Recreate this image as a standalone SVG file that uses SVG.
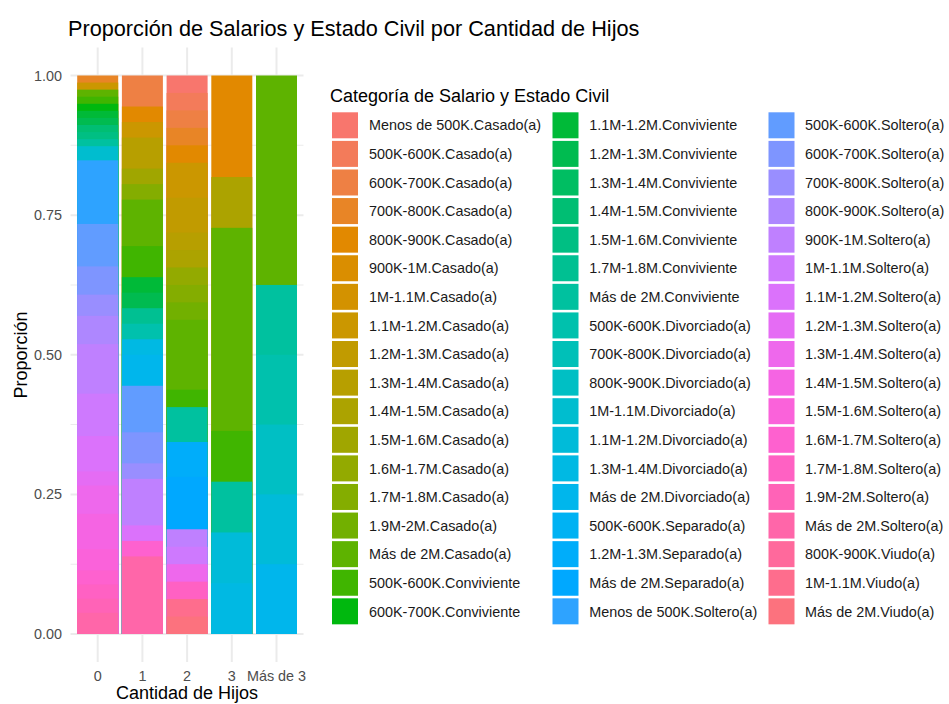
<svg xmlns="http://www.w3.org/2000/svg" width="949" height="704" viewBox="0 0 949 704">
<style>
text{font-family:"Liberation Sans",Arial,Helvetica,sans-serif}
.title{font-size:21.7px;fill:#000}
.axt{font-size:18px;fill:#000}
.tick{font-size:14.4px;fill:#4D4D4D}
.lt{font-size:18px;fill:#000}
.li{font-size:14.4px;fill:#1A1A1A}
.gmaj{stroke:#EBEBEB;stroke-width:2;fill:none}
.gmin{stroke:#EBEBEB;stroke-width:1.1;fill:none}
.c0{fill:#F8766D}.c1{fill:#F37B5A}.c2{fill:#EE8044}.c3{fill:#E88526}.c4{fill:#E28900}.c5{fill:#DA8E00}
.c6{fill:#D39200}.c7{fill:#CB9700}.c8{fill:#C19B00}.c9{fill:#B79F00}.c10{fill:#ACA300}.c11{fill:#A0A600}
.c12{fill:#93AA00}.c13{fill:#84AD00}.c14{fill:#72B000}.c15{fill:#5EB300}.c16{fill:#40B500}.c17{fill:#00B80E}
.c18{fill:#00BA38}.c19{fill:#00BB50}.c20{fill:#00BE62}.c21{fill:#00BE73}.c22{fill:#00BF83}.c23{fill:#00C092}
.c24{fill:#00C19F}.c25{fill:#00C1AD}.c26{fill:#00C0B8}.c27{fill:#00BFC4}.c28{fill:#00BDCF}.c29{fill:#00BBD9}
.c30{fill:#00B9E3}.c31{fill:#00B6EC}.c32{fill:#00B2F3}.c33{fill:#00ADFA}.c34{fill:#00A8FF}.c35{fill:#2EA3FF}
.c36{fill:#619CFF}.c37{fill:#7E95FF}.c38{fill:#998EFF}.c39{fill:#AE87FF}.c40{fill:#BF80FF}.c41{fill:#CE79FE}
.c42{fill:#DB72FB}.c43{fill:#E56CF4}.c44{fill:#EE68EC}.c45{fill:#F564E3}.c46{fill:#FA62DA}.c47{fill:#FE61CF}
.c48{fill:#FF61C3}.c49{fill:#FF63B7}.c50{fill:#FF66A9}.c51{fill:#FF699C}.c52{fill:#FE6D8D}.c53{fill:#FC727E}
</style>
<rect width="949" height="704" fill="#FFFFFF"/>
<text class="title" x="68" y="36">Proporción de Salarios y Estado Civil por Cantidad de Hijos</text>

<g id="grid">
<line class="gmin" x1="70.5" y1="564.19" x2="303.5" y2="564.19"/>
<line class="gmin" x1="70.5" y1="424.56" x2="303.5" y2="424.56"/>
<line class="gmin" x1="70.5" y1="284.94" x2="303.5" y2="284.94"/>
<line class="gmin" x1="70.5" y1="145.31" x2="303.5" y2="145.31"/>
<line class="gmaj" x1="70.5" y1="634" x2="303.5" y2="634"/>
<line class="gmaj" x1="70.5" y1="494.38" x2="303.5" y2="494.38"/>
<line class="gmaj" x1="70.5" y1="354.75" x2="303.5" y2="354.75"/>
<line class="gmaj" x1="70.5" y1="215.13" x2="303.5" y2="215.13"/>
<line class="gmaj" x1="70.5" y1="75.5" x2="303.5" y2="75.5"/>
<line class="gmaj" x1="97.7" y1="47.6" x2="97.7" y2="661.9"/>
<line class="gmaj" x1="142.4" y1="47.6" x2="142.4" y2="661.9"/>
<line class="gmaj" x1="187.1" y1="47.6" x2="187.1" y2="661.9"/>
<line class="gmaj" x1="231.8" y1="47.6" x2="231.8" y2="661.9"/>
<line class="gmaj" x1="276.5" y1="47.6" x2="276.5" y2="661.9"/>
</g>

<g id="bar-0">
<rect class="c3" x="77.2" y="75.5" width="41" height="558.5"/>
<rect class="c7" x="77.2" y="82.57" width="41" height="551.43"/>
<rect class="c15" x="77.2" y="89.64" width="41" height="544.36"/>
<rect class="c16" x="77.2" y="96.71" width="41" height="537.29"/>
<rect class="c17" x="77.2" y="103.78" width="41" height="530.22"/>
<rect class="c18" x="77.2" y="110.85" width="41" height="523.15"/>
<rect class="c19" x="77.2" y="117.92" width="41" height="516.08"/>
<rect class="c21" x="77.2" y="124.99" width="41" height="509.01"/>
<rect class="c22" x="77.2" y="132.06" width="41" height="501.94"/>
<rect class="c24" x="77.2" y="139.13" width="41" height="494.87"/>
<rect class="c28" x="77.2" y="146.2" width="41" height="487.8"/>
<rect class="c35" x="77.2" y="160.34" width="41" height="473.66"/>
<rect class="c36" x="77.2" y="223.96" width="41" height="410.04"/>
<rect class="c37" x="77.2" y="266.38" width="41" height="367.62"/>
<rect class="c38" x="77.2" y="294.66" width="41" height="339.34"/>
<rect class="c39" x="77.2" y="315.87" width="41" height="318.13"/>
<rect class="c40" x="77.2" y="344.15" width="41" height="289.85"/>
<rect class="c41" x="77.2" y="393.64" width="41" height="240.36"/>
<rect class="c42" x="77.2" y="436.05" width="41" height="197.95"/>
<rect class="c43" x="77.2" y="471.4" width="41" height="162.6"/>
<rect class="c44" x="77.2" y="485.54" width="41" height="148.46"/>
<rect class="c45" x="77.2" y="513.82" width="41" height="120.18"/>
<rect class="c46" x="77.2" y="549.17" width="41" height="84.83"/>
<rect class="c47" x="77.2" y="570.37" width="41" height="63.63"/>
<rect class="c48" x="77.2" y="584.51" width="41" height="49.49"/>
<rect class="c49" x="77.2" y="598.65" width="41" height="35.35"/>
<rect class="c50" x="77.2" y="612.79" width="41" height="21.21"/>
</g>

<g id="bar-1">
<rect class="c2" x="121.9" y="75.5" width="41" height="558.5"/>
<rect class="c4" x="121.9" y="106.53" width="41" height="527.47"/>
<rect class="c7" x="121.9" y="122.04" width="41" height="511.96"/>
<rect class="c9" x="121.9" y="137.56" width="41" height="496.44"/>
<rect class="c11" x="121.9" y="168.58" width="41" height="465.42"/>
<rect class="c13" x="121.9" y="184.1" width="41" height="449.9"/>
<rect class="c15" x="121.9" y="199.61" width="41" height="434.39"/>
<rect class="c16" x="121.9" y="246.15" width="41" height="387.85"/>
<rect class="c18" x="121.9" y="277.18" width="41" height="356.82"/>
<rect class="c19" x="121.9" y="292.69" width="41" height="341.31"/>
<rect class="c23" x="121.9" y="308.21" width="41" height="325.79"/>
<rect class="c25" x="121.9" y="323.72" width="41" height="310.28"/>
<rect class="c30" x="121.9" y="339.24" width="41" height="294.76"/>
<rect class="c31" x="121.9" y="354.75" width="41" height="279.25"/>
<rect class="c36" x="121.9" y="385.78" width="41" height="248.22"/>
<rect class="c37" x="121.9" y="432.32" width="41" height="201.68"/>
<rect class="c38" x="121.9" y="463.35" width="41" height="170.65"/>
<rect class="c40" x="121.9" y="478.86" width="41" height="155.14"/>
<rect class="c42" x="121.9" y="525.4" width="41" height="108.6"/>
<rect class="c47" x="121.9" y="540.92" width="41" height="93.08"/>
<rect class="c50" x="121.9" y="556.43" width="41" height="77.57"/>
</g>

<g id="bar-2">
<rect class="c0" x="166.6" y="75.5" width="41" height="558.5"/>
<rect class="c1" x="166.6" y="92.95" width="41" height="541.05"/>
<rect class="c2" x="166.6" y="110.41" width="41" height="523.59"/>
<rect class="c3" x="166.6" y="127.86" width="41" height="506.14"/>
<rect class="c4" x="166.6" y="145.31" width="41" height="488.69"/>
<rect class="c7" x="166.6" y="162.77" width="41" height="471.23"/>
<rect class="c8" x="166.6" y="197.67" width="41" height="436.33"/>
<rect class="c9" x="166.6" y="232.58" width="41" height="401.42"/>
<rect class="c10" x="166.6" y="250.03" width="41" height="383.97"/>
<rect class="c12" x="166.6" y="267.48" width="41" height="366.52"/>
<rect class="c13" x="166.6" y="284.94" width="41" height="349.06"/>
<rect class="c14" x="166.6" y="302.39" width="41" height="331.61"/>
<rect class="c15" x="166.6" y="319.84" width="41" height="314.16"/>
<rect class="c16" x="166.6" y="389.66" width="41" height="244.34"/>
<rect class="c24" x="166.6" y="407.11" width="41" height="226.89"/>
<rect class="c33" x="166.6" y="442.02" width="41" height="191.98"/>
<rect class="c34" x="166.6" y="476.92" width="41" height="157.08"/>
<rect class="c40" x="166.6" y="529.28" width="41" height="104.72"/>
<rect class="c41" x="166.6" y="546.73" width="41" height="87.27"/>
<rect class="c44" x="166.6" y="564.19" width="41" height="69.81"/>
<rect class="c48" x="166.6" y="581.64" width="41" height="52.36"/>
<rect class="c52" x="166.6" y="599.09" width="41" height="34.91"/>
<rect class="c53" x="166.6" y="616.55" width="41" height="17.45"/>
</g>

<g id="bar-3">
<rect class="c4" x="211.3" y="75.5" width="41" height="558.5"/>
<rect class="c10" x="211.3" y="177.05" width="41" height="456.95"/>
<rect class="c15" x="211.3" y="227.82" width="41" height="406.18"/>
<rect class="c16" x="211.3" y="430.91" width="41" height="203.09"/>
<rect class="c24" x="211.3" y="481.68" width="41" height="152.32"/>
<rect class="c29" x="211.3" y="532.45" width="41" height="101.55"/>
<rect class="c30" x="211.3" y="583.23" width="41" height="50.77"/>
</g>

<g id="bar-4">
<rect class="c15" x="256" y="75.5" width="41" height="558.5"/>
<rect class="c24" x="256" y="284.94" width="41" height="349.06"/>
<rect class="c25" x="256" y="354.75" width="41" height="279.25"/>
<rect class="c27" x="256" y="424.56" width="41" height="209.44"/>
<rect class="c29" x="256" y="494.38" width="41" height="139.62"/>
<rect class="c31" x="256" y="564.19" width="41" height="69.81"/>
</g>

<g id="y-axis">
<text class="tick" x="62" y="80.5" text-anchor="end">1.00</text>
<text class="tick" x="62" y="220.1" text-anchor="end">0.75</text>
<text class="tick" x="62" y="359.8" text-anchor="end">0.50</text>
<text class="tick" x="62" y="499.4" text-anchor="end">0.25</text>
<text class="tick" x="62" y="639" text-anchor="end">0.00</text>
<text class="axt" transform="translate(27,355) rotate(-90)" text-anchor="middle">Proporción</text>
</g>

<g id="x-axis">
<text class="tick" x="97.7" y="681" text-anchor="middle">0</text>
<text class="tick" x="142.4" y="681" text-anchor="middle">1</text>
<text class="tick" x="187.1" y="681" text-anchor="middle">2</text>
<text class="tick" x="231.8" y="681" text-anchor="middle">3</text>
<text class="tick" x="276.5" y="681" text-anchor="middle">Más de 3</text>
<text class="axt" x="187" y="699" text-anchor="middle">Cantidad de Hijos</text>
</g>

<g id="connectors"></g>

<g id="legend">
<text class="lt" x="330" y="102">Categoría de Salario y Estado Civil</text>
<g id="leg-0" transform="translate(332,112.3)"><rect class="c0" width="26" height="26"/><text class="li" x="37" y="18.2">Menos de 500K.Casado(a)</text></g>
<g id="leg-1" transform="translate(332,140.89)"><rect class="c1" width="26" height="26"/><text class="li" x="37" y="18.2">500K-600K.Casado(a)</text></g>
<g id="leg-2" transform="translate(332,169.48)"><rect class="c2" width="26" height="26"/><text class="li" x="37" y="18.2">600K-700K.Casado(a)</text></g>
<g id="leg-3" transform="translate(332,198.07)"><rect class="c3" width="26" height="26"/><text class="li" x="37" y="18.2">700K-800K.Casado(a)</text></g>
<g id="leg-4" transform="translate(332,226.66)"><rect class="c4" width="26" height="26"/><text class="li" x="37" y="18.2">800K-900K.Casado(a)</text></g>
<g id="leg-5" transform="translate(332,255.25)"><rect class="c5" width="26" height="26"/><text class="li" x="37" y="18.2">900K-1M.Casado(a)</text></g>
<g id="leg-6" transform="translate(332,283.84)"><rect class="c6" width="26" height="26"/><text class="li" x="37" y="18.2">1M-1.1M.Casado(a)</text></g>
<g id="leg-7" transform="translate(332,312.43)"><rect class="c7" width="26" height="26"/><text class="li" x="37" y="18.2">1.1M-1.2M.Casado(a)</text></g>
<g id="leg-8" transform="translate(332,341.02)"><rect class="c8" width="26" height="26"/><text class="li" x="37" y="18.2">1.2M-1.3M.Casado(a)</text></g>
<g id="leg-9" transform="translate(332,369.61)"><rect class="c9" width="26" height="26"/><text class="li" x="37" y="18.2">1.3M-1.4M.Casado(a)</text></g>
<g id="leg-10" transform="translate(332,398.2)"><rect class="c10" width="26" height="26"/><text class="li" x="37" y="18.2">1.4M-1.5M.Casado(a)</text></g>
<g id="leg-11" transform="translate(332,426.79)"><rect class="c11" width="26" height="26"/><text class="li" x="37" y="18.2">1.5M-1.6M.Casado(a)</text></g>
<g id="leg-12" transform="translate(332,455.38)"><rect class="c12" width="26" height="26"/><text class="li" x="37" y="18.2">1.6M-1.7M.Casado(a)</text></g>
<g id="leg-13" transform="translate(332,483.97)"><rect class="c13" width="26" height="26"/><text class="li" x="37" y="18.2">1.7M-1.8M.Casado(a)</text></g>
<g id="leg-14" transform="translate(332,512.56)"><rect class="c14" width="26" height="26"/><text class="li" x="37" y="18.2">1.9M-2M.Casado(a)</text></g>
<g id="leg-15" transform="translate(332,541.15)"><rect class="c15" width="26" height="26"/><text class="li" x="37" y="18.2">Más de 2M.Casado(a)</text></g>
<g id="leg-16" transform="translate(332,569.74)"><rect class="c16" width="26" height="26"/><text class="li" x="37" y="18.2">500K-600K.Conviviente</text></g>
<g id="leg-17" transform="translate(332,598.33)"><rect class="c17" width="26" height="26"/><text class="li" x="37" y="18.2">600K-700K.Conviviente</text></g>

<g id="leg-18" transform="translate(552.5,112.3)"><rect class="c18" width="26" height="26"/><text class="li" x="36.7" y="18.2">1.1M-1.2M.Conviviente</text></g>
<g id="leg-19" transform="translate(552.5,140.89)"><rect class="c19" width="26" height="26"/><text class="li" x="36.7" y="18.2">1.2M-1.3M.Conviviente</text></g>
<g id="leg-20" transform="translate(552.5,169.48)"><rect class="c20" width="26" height="26"/><text class="li" x="36.7" y="18.2">1.3M-1.4M.Conviviente</text></g>
<g id="leg-21" transform="translate(552.5,198.07)"><rect class="c21" width="26" height="26"/><text class="li" x="36.7" y="18.2">1.4M-1.5M.Conviviente</text></g>
<g id="leg-22" transform="translate(552.5,226.66)"><rect class="c22" width="26" height="26"/><text class="li" x="36.7" y="18.2">1.5M-1.6M.Conviviente</text></g>
<g id="leg-23" transform="translate(552.5,255.25)"><rect class="c23" width="26" height="26"/><text class="li" x="36.7" y="18.2">1.7M-1.8M.Conviviente</text></g>
<g id="leg-24" transform="translate(552.5,283.84)"><rect class="c24" width="26" height="26"/><text class="li" x="36.7" y="18.2">Más de 2M.Conviviente</text></g>
<g id="leg-25" transform="translate(552.5,312.43)"><rect class="c25" width="26" height="26"/><text class="li" x="36.7" y="18.2">500K-600K.Divorciado(a)</text></g>
<g id="leg-26" transform="translate(552.5,341.02)"><rect class="c26" width="26" height="26"/><text class="li" x="36.7" y="18.2">700K-800K.Divorciado(a)</text></g>
<g id="leg-27" transform="translate(552.5,369.61)"><rect class="c27" width="26" height="26"/><text class="li" x="36.7" y="18.2">800K-900K.Divorciado(a)</text></g>
<g id="leg-28" transform="translate(552.5,398.2)"><rect class="c28" width="26" height="26"/><text class="li" x="36.7" y="18.2">1M-1.1M.Divorciado(a)</text></g>
<g id="leg-29" transform="translate(552.5,426.79)"><rect class="c29" width="26" height="26"/><text class="li" x="36.7" y="18.2">1.1M-1.2M.Divorciado(a)</text></g>
<g id="leg-30" transform="translate(552.5,455.38)"><rect class="c30" width="26" height="26"/><text class="li" x="36.7" y="18.2">1.3M-1.4M.Divorciado(a)</text></g>
<g id="leg-31" transform="translate(552.5,483.97)"><rect class="c31" width="26" height="26"/><text class="li" x="36.7" y="18.2">Más de 2M.Divorciado(a)</text></g>
<g id="leg-32" transform="translate(552.5,512.56)"><rect class="c32" width="26" height="26"/><text class="li" x="36.7" y="18.2">500K-600K.Separado(a)</text></g>
<g id="leg-33" transform="translate(552.5,541.15)"><rect class="c33" width="26" height="26"/><text class="li" x="36.7" y="18.2">1.2M-1.3M.Separado(a)</text></g>
<g id="leg-34" transform="translate(552.5,569.74)"><rect class="c34" width="26" height="26"/><text class="li" x="36.7" y="18.2">Más de 2M.Separado(a)</text></g>
<g id="leg-35" transform="translate(552.5,598.33)"><rect class="c35" width="26" height="26"/><text class="li" x="36.7" y="18.2">Menos de 500K.Soltero(a)</text></g>

<g id="leg-36" transform="translate(768.5,112.3)"><rect class="c36" width="26" height="26"/><text class="li" x="36.5" y="18.2">500K-600K.Soltero(a)</text></g>
<g id="leg-37" transform="translate(768.5,140.89)"><rect class="c37" width="26" height="26"/><text class="li" x="36.5" y="18.2">600K-700K.Soltero(a)</text></g>
<g id="leg-38" transform="translate(768.5,169.48)"><rect class="c38" width="26" height="26"/><text class="li" x="36.5" y="18.2">700K-800K.Soltero(a)</text></g>
<g id="leg-39" transform="translate(768.5,198.07)"><rect class="c39" width="26" height="26"/><text class="li" x="36.5" y="18.2">800K-900K.Soltero(a)</text></g>
<g id="leg-40" transform="translate(768.5,226.66)"><rect class="c40" width="26" height="26"/><text class="li" x="36.5" y="18.2">900K-1M.Soltero(a)</text></g>
<g id="leg-41" transform="translate(768.5,255.25)"><rect class="c41" width="26" height="26"/><text class="li" x="36.5" y="18.2">1M-1.1M.Soltero(a)</text></g>
<g id="leg-42" transform="translate(768.5,283.84)"><rect class="c42" width="26" height="26"/><text class="li" x="36.5" y="18.2">1.1M-1.2M.Soltero(a)</text></g>
<g id="leg-43" transform="translate(768.5,312.43)"><rect class="c43" width="26" height="26"/><text class="li" x="36.5" y="18.2">1.2M-1.3M.Soltero(a)</text></g>
<g id="leg-44" transform="translate(768.5,341.02)"><rect class="c44" width="26" height="26"/><text class="li" x="36.5" y="18.2">1.3M-1.4M.Soltero(a)</text></g>
<g id="leg-45" transform="translate(768.5,369.61)"><rect class="c45" width="26" height="26"/><text class="li" x="36.5" y="18.2">1.4M-1.5M.Soltero(a)</text></g>
<g id="leg-46" transform="translate(768.5,398.2)"><rect class="c46" width="26" height="26"/><text class="li" x="36.5" y="18.2">1.5M-1.6M.Soltero(a)</text></g>
<g id="leg-47" transform="translate(768.5,426.79)"><rect class="c47" width="26" height="26"/><text class="li" x="36.5" y="18.2">1.6M-1.7M.Soltero(a)</text></g>
<g id="leg-48" transform="translate(768.5,455.38)"><rect class="c48" width="26" height="26"/><text class="li" x="36.5" y="18.2">1.7M-1.8M.Soltero(a)</text></g>
<g id="leg-49" transform="translate(768.5,483.97)"><rect class="c49" width="26" height="26"/><text class="li" x="36.5" y="18.2">1.9M-2M.Soltero(a)</text></g>
<g id="leg-50" transform="translate(768.5,512.56)"><rect class="c50" width="26" height="26"/><text class="li" x="36.5" y="18.2">Más de 2M.Soltero(a)</text></g>
<g id="leg-51" transform="translate(768.5,541.15)"><rect class="c51" width="26" height="26"/><text class="li" x="36.5" y="18.2">800K-900K.Viudo(a)</text></g>
<g id="leg-52" transform="translate(768.5,569.74)"><rect class="c52" width="26" height="26"/><text class="li" x="36.5" y="18.2">1M-1.1M.Viudo(a)</text></g>
<g id="leg-53" transform="translate(768.5,598.33)"><rect class="c53" width="26" height="26"/><text class="li" x="36.5" y="18.2">Más de 2M.Viudo(a)</text></g>
</g>
</svg>
